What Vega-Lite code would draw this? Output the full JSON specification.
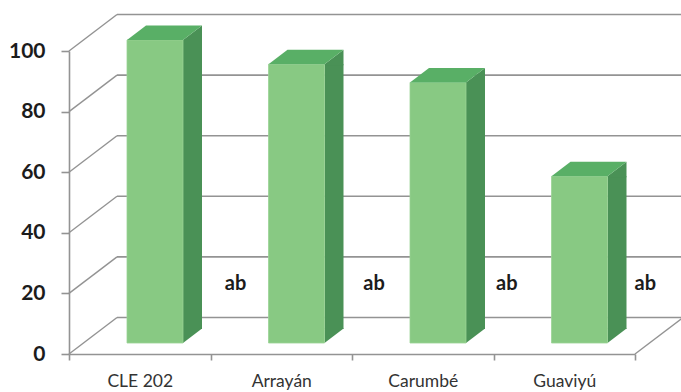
{
  "$schema": "https://vega.github.io/schema/vega-lite/v6.json",
  "width": 566,
  "height": 303,
  "autosize": "none",
  "padding": {"left": 69, "top": 51, "right": 46, "bottom": 38},
  "background": "white",
  "view": {"stroke": null},
  "config": {"font": "Lato"},
  "datasets": {
    "varieties": [
      {"variety": "CLE 202", "pct": 100, "letter": "ab"},
      {"variety": "Arrayán", "pct": 92, "letter": "ab"},
      {"variety": "Carumbé", "pct": 86, "letter": "ab"},
      {"variety": "Guaviyú", "pct": 55, "letter": "ab"}
    ],
    "ticks": [
      {"tick": 0}, {"tick": 20}, {"tick": 40}, {"tick": 60}, {"tick": 80}, {"tick": 100}
    ]
  },
  "resolve": {"scale": {"x": "independent"}},
  "layer": [
    {
      "data": {"name": "ticks"},
      "mark": {"type": "rule", "color": "#939393", "strokeWidth": 1.6, "xOffset": 48, "x2Offset": 46, "yOffset": -36.5},
      "encoding": {
        "x": {"datum": 0, "type": "quantitative", "scale": {"domain": [0, 1]}, "axis": null},
        "x2": {"datum": 1},
        "y": {"field": "tick", "type": "quantitative", "scale": {"domain": [0, 100], "nice": false},
          "axis": {"values": [0, 20, 40, 60, 80, 100], "grid": false, "title": null, "domainColor": "#939393", "domainWidth": 1.6, "tickColor": "#939393", "tickWidth": 1.6, "tickSize": 8, "labelPadding": 16, "labelFont": "Lato", "labelFontSize": 21, "labelFontWeight": "bold", "labelColor": "#1c1c1c"}}
      }
    },
    {
      "data": {"name": "ticks"},
      "mark": {"type": "rule", "color": "#939393", "strokeWidth": 1.4, "x2Offset": 48, "y2Offset": -36.5},
      "encoding": {
        "x": {"datum": 0, "type": "quantitative", "scale": {"domain": [0, 1]}, "axis": null},
        "x2": {"datum": 0},
        "y": {"field": "tick", "type": "quantitative"},
        "y2": {"field": "tick"}
      }
    },
    {
      "data": {"values": [{"tick": 0}]},
      "mark": {"type": "rule", "color": "#939393", "strokeWidth": 1.4, "x2Offset": 48, "y2Offset": -36.5},
      "encoding": {
        "x": {"datum": 1, "type": "quantitative", "scale": {"domain": [0, 1]}, "axis": null},
        "x2": {"datum": 1},
        "y": {"field": "tick", "type": "quantitative"},
        "y2": {"field": "tick"}
      }
    },
    {
      "data": {"name": "varieties"},
      "mark": {"type": "bar", "color": "#4A9156", "width": 19, "xOffset": 52.75, "yOffset": -11, "y2Offset": -25},
      "encoding": {
        "x": {"field": "variety", "type": "nominal", "sort": null, "axis": null},
        "y": {"field": "pct", "type": "quantitative"},
        "y2": {"datum": 0}
      }
    },
    {
      "data": {"name": "varieties"},
      "mark": {"type": "point", "filled": true, "opacity": 1, "size": 4, "color": "#4A9156", "strokeWidth": 0, "shape": "M43.25,-11L62.25,-25.5L62.25,-10L43.25,-10Z"},
      "encoding": {
        "x": {"field": "variety", "type": "nominal", "sort": null, "axis": null},
        "y": {"field": "pct", "type": "quantitative"}
      }
    },
    {
      "data": {"name": "varieties"},
      "mark": {"type": "point", "filled": true, "opacity": 1, "size": 4, "color": "#4A9156", "strokeWidth": 0, "shape": "M43.25,-11L43.25,-26L62.25,-26L62.25,-25.5Z"},
      "encoding": {
        "x": {"field": "variety", "type": "nominal", "sort": null, "axis": null},
        "y": {"datum": 0}
      }
    },
    {
      "data": {"name": "varieties"},
      "mark": {"type": "bar", "color": "#88C983", "stroke": "#9AD396", "strokeWidth": 0.8, "width": 56, "xOffset": 15.25, "yOffset": -11, "y2Offset": -11},
      "encoding": {
        "x": {"field": "variety", "type": "nominal", "sort": null,
          "scale": {"paddingInner": 0, "paddingOuter": 0},
          "axis": {"title": null, "grid": false, "tickBand": "extent", "domainColor": "#939393", "domainWidth": 1.6, "tickColor": "#939393", "tickWidth": 1.6, "tickSize": 6, "labelAngle": 0, "labelPadding": 12, "labelFont": "Lato", "labelFontSize": 17.5, "labelColor": "#333333"}},
        "y": {"field": "pct", "type": "quantitative"},
        "y2": {"datum": 0}
      }
    },
    {
      "data": {"name": "varieties"},
      "mark": {"type": "point", "filled": true, "opacity": 1, "size": 4, "color": "#59AF66", "strokeWidth": 0, "shape": "M-12.75,-11L43.25,-11L62.25,-25.5L6.25,-25.5Z"},
      "encoding": {
        "x": {"field": "variety", "type": "nominal", "sort": null, "axis": null},
        "y": {"field": "pct", "type": "quantitative"}
      }
    },
    {
      "data": {"name": "varieties"},
      "transform": [{"filter": "datum.variety === 'CLE 202'"}],
      "mark": {"type": "text", "font": "Lato", "fontSize": 20, "fontWeight": "bold", "color": "#1c1c1c", "baseline": "middle", "xOffset": 95.75},
      "encoding": {
        "x": {"field": "variety", "type": "nominal", "scale": {"domain": ["CLE 202", "Arrayán", "Carumbé", "Guaviyú"]}, "axis": null},
        "y": {"datum": 23},
        "text": {"field": "letter"}
      }
    },
    {
      "data": {"name": "varieties"},
      "transform": [{"filter": "datum.variety === 'Arrayán'"}],
      "mark": {"type": "text", "font": "Lato", "fontSize": 20, "fontWeight": "bold", "color": "#1c1c1c", "baseline": "middle", "xOffset": 92.75},
      "encoding": {
        "x": {"field": "variety", "type": "nominal", "scale": {"domain": ["CLE 202", "Arrayán", "Carumbé", "Guaviyú"]}, "axis": null},
        "y": {"datum": 23},
        "text": {"field": "letter"}
      }
    },
    {
      "data": {"name": "varieties"},
      "transform": [{"filter": "datum.variety === 'Carumbé'"}],
      "mark": {"type": "text", "font": "Lato", "fontSize": 20, "fontWeight": "bold", "color": "#1c1c1c", "baseline": "middle", "xOffset": 84},
      "encoding": {
        "x": {"field": "variety", "type": "nominal", "scale": {"domain": ["CLE 202", "Arrayán", "Carumbé", "Guaviyú"]}, "axis": null},
        "y": {"datum": 23},
        "text": {"field": "letter"}
      }
    },
    {
      "data": {"name": "varieties"},
      "transform": [{"filter": "datum.variety === 'Guaviyú'"}],
      "mark": {"type": "text", "font": "Lato", "fontSize": 20, "fontWeight": "bold", "color": "#1c1c1c", "baseline": "middle", "xOffset": 81},
      "encoding": {
        "x": {"field": "variety", "type": "nominal", "scale": {"domain": ["CLE 202", "Arrayán", "Carumbé", "Guaviyú"]}, "axis": null},
        "y": {"datum": 23},
        "text": {"field": "letter"}
      }
    }
  ]
}
